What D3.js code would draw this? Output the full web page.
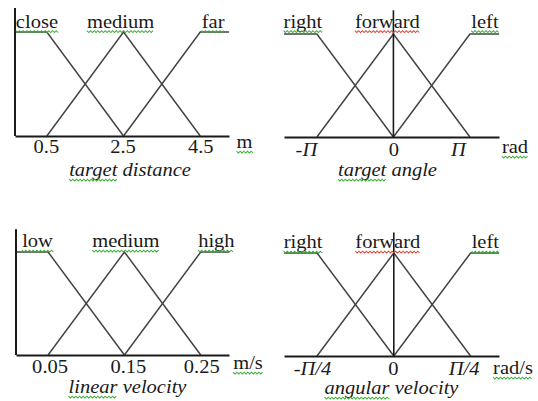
<!DOCTYPE html>
<html>
<head>
<meta charset="utf-8">
<script src="https://cdn.jsdelivr.net/npm/d3@7"></script>
<style>
  html, body { margin: 0; padding: 0; background: #fff; }
  svg { display: block; }
  text { font-family: "Liberation Serif", "Times New Roman", serif; fill: #1a1a1a; }
</style>
</head>
<body>
<svg id="chart" width="538" height="401"></svg>
<script>
const PI = Math.PI;

// Membership sets are [a, b, c]: degree 0 at a, 1 at b, 0 at c.
// A null end means the shoulder stays at 1 up to the end of the axis.

// target distance (m)
const distanceSets = ["close", "medium", "far"];
const distanceClose = [null, 0.5, 2.5];
const distanceMedium = [0.5, 2.5, 4.5];
const distanceFar = [2.5, 4.5, null];
const distanceTicks = [0.5, 2.5, 4.5];
const distanceTickText = ["0.5", "2.5", "4.5"];

// target angle (rad)
const angleSets = ["right", "forward", "left"];
const angleRight = [null, -PI, 0];
const angleForward = [-PI, 0, PI];
const angleLeft = [0, PI, null];
const angleTicks = [-PI, 0, PI];
const angleTickText = ["-Π", "0", "Π"];

// linear velocity (m/s)
const linearSets = ["low", "medium", "high"];
const linearLow = [null, 0.05, 0.15];
const linearMedium = [0.05, 0.15, 0.25];
const linearHigh = [0.15, 0.25, null];
const linearTicks = [0.05, 0.15, 0.25];
const linearTickText = ["0.05", "0.15", "0.25"];

// angular velocity (rad/s)
const angularSets = ["right", "forward", "left"];
const angularRight = [null, -PI / 4, 0];
const angularForward = [-PI / 4, 0, PI / 4];
const angularLeft = [0, PI / 4, null];
const angularTicks = [-PI / 4, 0, PI / 4];
const angularTickText = ["-Π/4", "0", "Π/4"];

const FONT = 19, SX = 1.08;
const GREEN = "#3fae3a", RED = "#e0443c";

const panels = [
  { names: distanceSets, sets: [distanceClose, distanceMedium, distanceFar],
    ticks: distanceTicks, tickText: distanceTickText,
    domain: [-0.33, 5.25], xr: [15, 229], yr: [136, 32], top: 1.23, yAxis: true,
    labelDx: [6, -3, -1.5], labelDy: -4.5, tickDx: [-1, -1, 0], tickDy: 17,
    unit: "m", unitPos: [244.5, 148], title: ["target", " distance"], titlePos: [130, 176] },
  { names: angleSets, sets: [angleRight, angleForward, angleLeft],
    ticks: angleTicks, tickText: angleTickText,
    domain: [-1.43 * PI, 1.38 * PI], xr: [284, 499], yr: [137, 34], top: 1.23, yAxis: false,
    labelDx: [2.5, -6, 0.5], labelDy: -6.5, tickDx: [-11, 0, -12], tickDy: 19.5,
    unit: "rad", unitPos: [515, 153], title: ["target", " angle"], titlePos: [387.5, 176] },
  { names: linearSets, sets: [linearLow, linearMedium, linearHigh],
    ticks: linearTicks, tickText: linearTickText,
    domain: [0.008, 0.287], xr: [16, 229], yr: [355, 252], top: 1.22, yAxis: true,
    labelDx: [5.5, 1.5, 1.5], labelDy: -5, tickDx: [1.5, 3.5, 0.5], tickDy: 18,
    unit: "m/s", unitPos: [248, 369], title: ["linear", " velocity"], titlePos: [127.5, 393] },
  { names: angularSets, sets: [angularRight, angularForward, angularLeft],
    ticks: angularTicks, tickText: angularTickText,
    domain: [-1.43 * PI / 4, 1.37 * PI / 4], xr: [284, 499], yr: [356, 253], top: 1.2, yAxis: false,
    labelDx: [2.5, -6, 0.5], labelDy: -5, tickDx: [-5, -1, -7], tickDy: 19,
    unit: "rad/s", unitPos: [513, 374], title: ["angular", " velocity"], titlePos: [391.5, 394] }
];

const svg = d3.select("#chart");

// spell-check style wavy underline
function squiggle(g, x0, x1, y, color) {
  const pts = [];
  for (let x = x0, k = 0; x <= x1; x += 1.7, k++) pts.push([x, y + (k % 2 ? 1.8 : 0)]);
  g.append("path").attr("d", d3.line()(pts))
    .attr("fill", "none").attr("stroke", color).attr("stroke-width", 1);
}

// stretched serif label, optionally underlined (whole text or first tspan)
function label(x, y, parts, opts = {}) {
  const g = svg.append("g").attr("transform", `translate(${x},${y}) scale(${SX},1)`);
  const t = g.append("text").attr("text-anchor", opts.anchor || "middle")
    .attr("font-size", FONT).attr("font-style", opts.italic ? "italic" : "normal");
  parts.forEach(p => t.append("tspan").text(p));
  if (opts.wave) {
    const bb = t.node().getBBox();
    let w = bb.width;
    if (opts.firstOnly) w = t.node().getSubStringLength(0, parts[0].length);
    squiggle(g, bb.x, bb.x + w, 3.2, opts.wave);
  }
  return g;
}

panels.forEach(p => {
  const x = d3.scaleLinear().domain(p.domain).range(p.xr);
  const y = d3.scaleLinear().domain([0, 1]).range(p.yr);
  const [lo, hi] = p.domain;

  // membership functions
  const line = d3.line().x(d => x(d[0])).y(d => y(d[1]));
  p.sets.forEach(([a, b, c]) => {
    const pts = [];
    pts.push(a === null ? [lo, 1] : [a, 0]);
    pts.push([b, 1]);
    pts.push(c === null ? [hi, 1] : [c, 0]);
    svg.append("path").attr("d", line(pts))
      .attr("fill", "none").attr("stroke", "#444").attr("stroke-width", 1.5);
  });

  // horizontal axis with tick labels
  const axis = d3.axisBottom(x).tickValues(p.ticks)
    .tickFormat((d, i) => p.tickText[i]).tickSize(0).tickSizeOuter(0);
  const ag = svg.append("g").attr("transform", `translate(0,${y(0)})`).call(axis);
  ag.select(".domain").attr("stroke", "#1a1a1a").attr("stroke-width", 2);
  ag.selectAll(".tick text")
    .attr("font-family", null).attr("font-size", FONT)
    .attr("fill", "#1a1a1a")
    .attr("font-style", (d, i) => p.tickText[i].includes("Π") ? "italic" : "normal")
    .attr("y", p.tickDy).attr("dy", null)
    .attr("x", (d, i) => p.tickDx[i] / SX)
    .attr("transform", `scale(${SX},1)`);

  // vertical axis: membership axis on the left, or the zero line
  const vx = p.yAxis ? p.xr[0] : x(0);
  svg.append("line").attr("x1", vx).attr("x2", vx)
    .attr("y1", y(0)).attr("y2", y(p.top))
    .attr("stroke", "#1a1a1a").attr("stroke-width", p.yAxis ? 2 : 1.6);

  // set names
  p.sets.forEach(([a, b, c], i) => {
    let cx;
    if (a === null) cx = (x(lo) + x(b)) / 2;
    else if (c === null) cx = (x(b) + x(hi)) / 2;
    else cx = x(b);
    const name = p.names[i];
    label(cx + p.labelDx[i], y(1) + p.labelDy, [name],
      { wave: name === "forward" ? RED : GREEN });
  });

  // unit and title
  label(p.unitPos[0], p.unitPos[1], [p.unit], { wave: GREEN });
  label(p.titlePos[0], p.titlePos[1], p.title, { italic: true, wave: GREEN, firstOnly: true });
});
</script>
</body>
</html>
